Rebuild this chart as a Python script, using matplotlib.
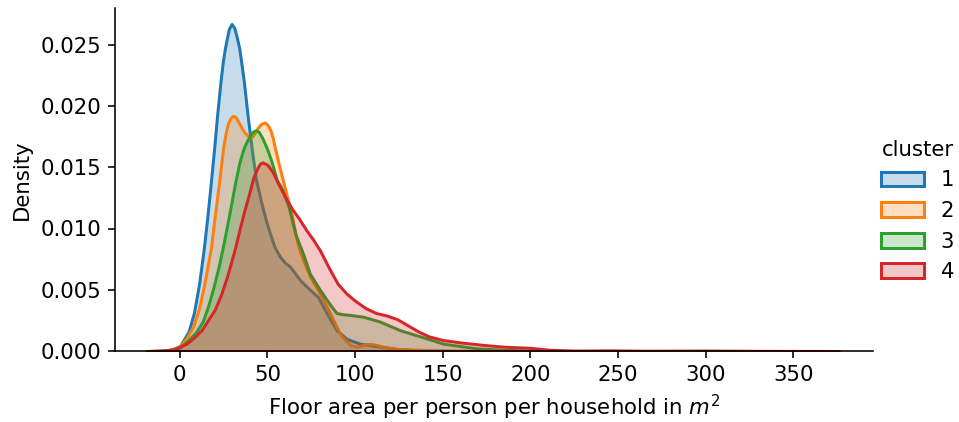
import matplotlib
matplotlib.use('Agg')
import matplotlib.pyplot as plt
from matplotlib.colors import to_rgba
from matplotlib.patches import Patch
from matplotlib.ticker import FormatStrFormatter

# density curves per cluster (floor area in m2 -> density)
x_c1 = [-17, -10, -5, 0, 5, 8, 11, 13.7, 15.8, 17.7, 19.6, 21.3, 23.2, 24.5, 25.7, 26.8,
        28, 29.5, 31, 32.5, 33.9, 35.2, 36.5, 38.6, 40.9, 43.4, 46.5, 49, 51.4, 54, 57.1,
        60, 62.8, 68.5, 74.2, 78.9, 83.7, 89.4, 95.1, 102.7, 114.2, 125.6, 140, 160, 180]
y_c1 = [0, 0.00002, 0.0001, 0.0004, 0.0016, 0.0031, 0.0055, 0.0084, 0.0111, 0.0138, 0.0166,
        0.0193, 0.0220, 0.0236, 0.0247, 0.0255, 0.0263, 0.0267, 0.0264, 0.0256, 0.0247,
        0.0234, 0.0220, 0.0193, 0.0166, 0.0140, 0.0121, 0.0107, 0.0096, 0.0085, 0.0077,
        0.0072, 0.0069, 0.0058, 0.0050, 0.0044, 0.0031, 0.0017, 0.0010, 0.0006, 0.00035,
        0.00014, 0.00004, 0.00001, 0]

x_c2 = [-17, -10, -5, 0, 4, 7.6, 11, 14, 17.7, 20, 22.4, 24.7, 26.3, 27.5, 28.8, 30.4,
        31.8, 33, 34.2, 35.7, 37.1, 38.5, 40, 41.3, 42.7, 44.3, 46, 47.3, 48.5, 49.8, 51.5,
        53, 54.2, 56.5, 59, 61.5, 63.8, 65.8, 67.5, 70.4, 74.2, 79.9, 85.6, 91.3, 97,
        100.8, 103.5, 106.6, 110.3, 116, 123.7, 131, 143, 160, 180, 200]
y_c2 = [0, 0.00002, 0.0001, 0.0004, 0.0011, 0.0020, 0.0035, 0.0055, 0.0084, 0.0111, 0.0138,
        0.0166, 0.0179, 0.0186, 0.0190, 0.0192, 0.0191, 0.0188, 0.0185, 0.0181, 0.0178,
        0.0176, 0.01745, 0.0175, 0.0178, 0.0182, 0.0185, 0.0186, 0.01865, 0.0185, 0.0181,
        0.0174, 0.0166, 0.0152, 0.0138, 0.0124, 0.0111, 0.0097, 0.0086, 0.0074, 0.0061,
        0.0047, 0.0031, 0.0014, 0.0005, 0.00035, 0.00045, 0.00057, 0.00055, 0.00035,
        0.00017, 0.00012, 0.00006, 0.00002, 0.00001, 0]

x_c3 = [-19, -12, -5, 0, 5, 9.5, 13, 16, 19, 22, 25, 28, 31.5, 34, 36.5, 38.5, 40.5,
        41.7, 42.8, 44, 45, 47, 49.5, 52, 55.2, 58, 62, 66, 70.4, 74.2, 79.9, 85.6, 89.4,
        93, 97, 104.6, 114.2, 125.6, 137, 150.3, 169.3, 185, 200, 230, 270, 300, 330]
y_c3 = [0, 0.00002, 0.0001, 0.0003, 0.0009, 0.0016, 0.0024, 0.0036, 0.0051, 0.0068, 0.0088,
        0.0110, 0.0137, 0.0154, 0.0166, 0.0172, 0.0177, 0.0179, 0.0180, 0.01797, 0.0179,
        0.0174, 0.0166, 0.0156, 0.0140, 0.0133, 0.0118, 0.0095, 0.0079, 0.0063, 0.0050,
        0.0038, 0.0031, 0.0030, 0.00295, 0.0028, 0.0024, 0.0017, 0.0012, 0.0006, 0.00022,
        0.0001, 0.00004, 0.00001, 0.00001, 0.00003, 0]

x_c4 = [-18, -10, -3, 3.8, 8, 12.4, 16, 20, 23.5, 27, 31.5, 34, 36.5, 40, 42, 44.5, 45.8,
        47.2, 48.6, 50, 53, 56, 60, 64, 68, 72, 76, 80, 85, 90, 95, 100, 106, 112, 118,
        124, 130, 136, 142, 150, 160, 173, 185, 200, 211, 225, 245, 265, 300, 340, 376]
y_c4 = [0, 0.00003, 0.00015, 0.0006, 0.0011, 0.0017, 0.0025, 0.0034, 0.0046, 0.0061, 0.0084,
        0.0099, 0.0113, 0.0131, 0.0142, 0.0150, 0.0153, 0.0154, 0.0153, 0.0152, 0.0146,
        0.0137, 0.0126, 0.0116, 0.0108, 0.0099, 0.0091, 0.0082, 0.0068, 0.0055, 0.0047,
        0.0041, 0.0035, 0.0031, 0.0029, 0.0026, 0.0021, 0.0016, 0.0012, 0.0009, 0.0007,
        0.0005, 0.00035, 0.00026, 0.0001, 0.00003, 0.00005, 0.00002, 0.00002, 0.00001, 0]

clusters = ['1', '2', '3', '4']
colors = ['#1f77b4', '#ff7f0e', '#2ca02c', '#d62728']
curves = [(x_c1, y_c1), (x_c2, y_c2), (x_c3, y_c3), (x_c4, y_c4)]

plt.rcParams['font.size'] = 10.6

fig = plt.figure(figsize=(959 / 144, 422 / 144), dpi=144)
ax = fig.add_axes([115 / 959, 71 / 422, 758 / 959, 343 / 422])

for (xs, ys), c in zip(curves, colors):
    ax.fill_between(xs, ys, 0, facecolor=to_rgba(c, 0.25), edgecolor=c,
                    linewidth=1.5, joinstyle='round')

ax.set_xlim(-37, 395.5)
ax.set_ylim(0, 0.0280)
ax.set_xticks([0, 50, 100, 150, 200, 250, 300, 350])
ax.set_yticks([0, 0.005, 0.010, 0.015, 0.020, 0.025])
ax.yaxis.set_major_formatter(FormatStrFormatter('%.3f'))
ax.spines['top'].set_visible(False)
ax.spines['right'].set_visible(False)
ax.set_xlabel('Floor area per person per household in $m^2$')
ax.set_ylabel('Density')

handles = [Patch(facecolor=to_rgba(c, 0.25), edgecolor=c, linewidth=1.5) for c in colors]
fig.legend(handles, clusters, title='cluster', loc='center left',
           bbox_to_anchor=(0.899, 0.5), frameon=False)

fig.savefig('out.png', dpi=144)
